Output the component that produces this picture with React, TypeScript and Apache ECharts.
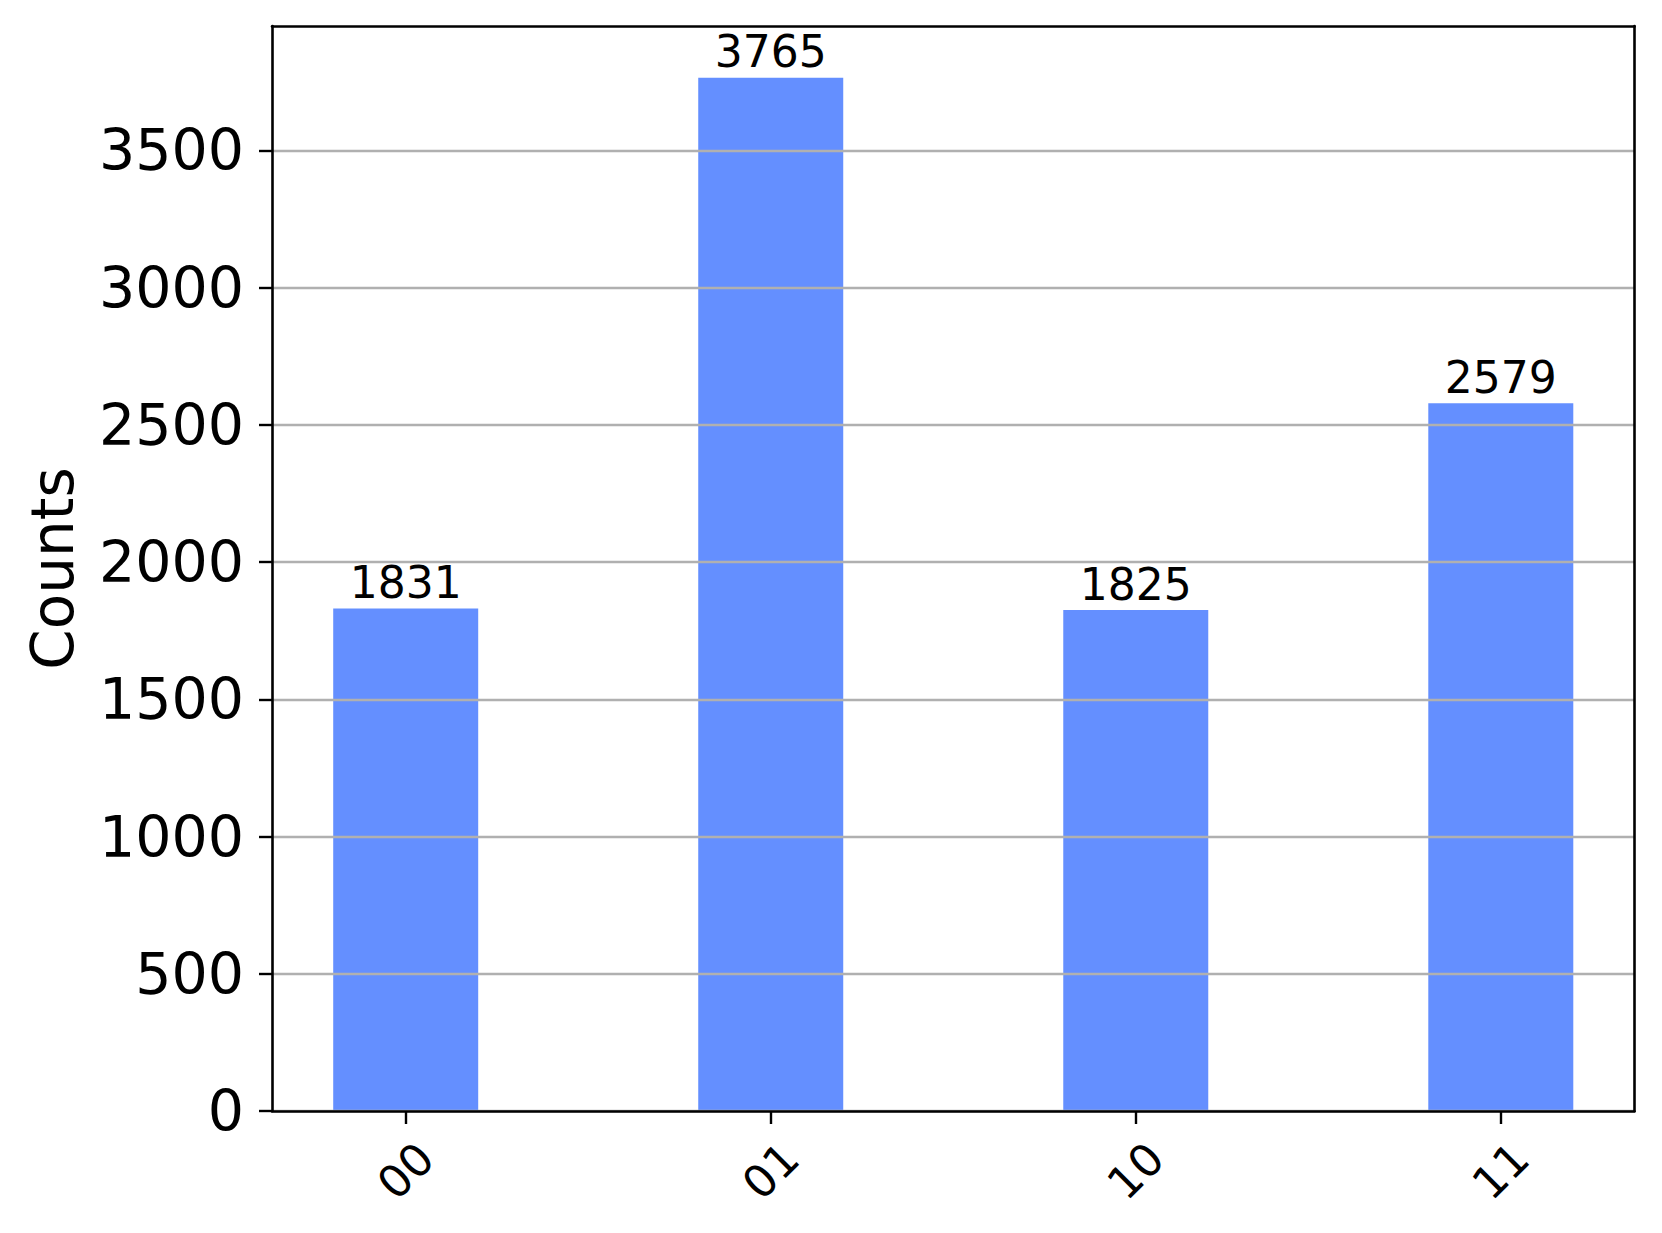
import React, { useEffect, useRef } from "react";
import * as echarts from "echarts";

const categories = ["00", "01", "10", "11"];
const counts = [1831, 3765, 1825, 2579];
const yTicks = [0, 500, 1000, 1500, 2000, 2500, 3000, 3500];
const xPositions = [0, 1, 2, 3];

const FONT = "DejaVu Sans";

export default function App() {
  const ref = useRef<HTMLDivElement>(null);
  useEffect(() => {
    document.body.style.margin = "0";
    const chart = echarts.init(ref.current!, null, { renderer: "svg" });
    const yMax = Math.max(...counts) * 1.05;
    chart.setOption({
      animation: false,
      backgroundColor: "#ffffff",
      grid: { left: 272, right: 27.5, top: 26, bottom: 122, containLabel: false },
      xAxis: [
        {
          type: "value",
          min: -0.3663,
          max: 3.3663,
          position: "bottom",
          z: 6,
          axisLine: { show: true, onZero: false, lineStyle: { color: "#000", width: 2.6 } },
          axisTick: {
            show: true,
            customValues: xPositions,
            length: 13,
            lineStyle: { color: "#000", width: 2.4 },
          },
          axisLabel: {
            show: true,
            customValues: xPositions,
            rotate: 45,
            align: "center",
            verticalAlign: "middle",
            margin: 60,
            fontSize: 45,
            fontFamily: FONT,
            color: "#000",
            formatter: (v: number) => categories[Math.round(v)] ?? "",
          },
          splitLine: { show: false },
        },
        {
          type: "value",
          min: -0.3663,
          max: 3.3663,
          position: "top",
          z: 7,
          axisLine: { show: true, onZero: false, lineStyle: { color: "#000", width: 2.6 } },
          axisTick: { show: false },
          axisLabel: { show: false },
          splitLine: { show: false },
        },
      ],
      yAxis: [
        {
          type: "value",
          min: 0,
          max: yMax,
          interval: 500,
          position: "left",
          z: 5,
          name: "Counts",
          nameLocation: "middle",
          nameRotate: 90,
          nameGap: 190,
          nameTextStyle: { fontSize: 58, fontFamily: FONT, color: "#000" },
          axisLine: { show: true, onZero: false, lineStyle: { color: "#000", width: 2.6 } },
          axisTick: {
            show: true,
            customValues: yTicks,
            length: 13,
            lineStyle: { color: "#000", width: 2.4 },
          },
          axisLabel: {
            show: true,
            customValues: yTicks,
            margin: 28,
            fontSize: 57,
            fontFamily: FONT,
            color: "#000",
            formatter: (v: number) => String(v),
          },
          splitLine: { show: true, lineStyle: { color: "#b0b0b0", width: 2.4 } },
        },
        {
          type: "value",
          min: 0,
          max: yMax,
          position: "right",
          z: 7,
          axisLine: { show: true, onZero: false, lineStyle: { color: "#000", width: 2.6 } },
          axisTick: { show: false },
          axisLabel: { show: false },
          splitLine: { show: false },
        },
      ],
      series: [
        {
          type: "bar",
          xAxisIndex: 0,
          yAxisIndex: 0,
          barWidth: 145,
          z: 2,
          itemStyle: { color: "#648fff" },
          data: counts.map((v, i) => [xPositions[i], v]),
          label: {
            show: true,
            position: "top",
            distance: 4,
            fontSize: 44,
            fontFamily: FONT,
            color: "#000",
            formatter: (p: any) => String(p.value[1]),
          },
        },
      ],
    });
    return () => chart.dispose();
  }, []);
  return <div ref={ref} style={{ width: 1662, height: 1233 }} />;
}
